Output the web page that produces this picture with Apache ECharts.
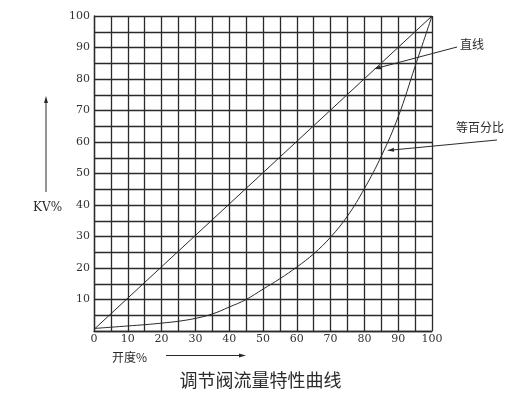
<!DOCTYPE html>
<html>
<head>
<meta charset="utf-8">
<script src="https://cdn.jsdelivr.net/npm/echarts@6/dist/echarts.min.js"></script>
<style>
html,body{margin:0;padding:0;background:#fff;}
#c{width:521px;height:395px;}
</style>
</head>
<body>
<div id="c"></div>
<script>
// Data
var openingPct = [0,5,10,15,20,25,30,35,40,45,50,55,60,65,70,75,80,85,90,95,100];
var equalPct   = [0.8,1.2,1.6,2.0,2.5,3.1,4.0,5.4,7.6,10.0,13.3,16.6,20.3,24.5,29.8,36.5,45.2,55.5,68,84,100];
var linearX    = [0,100];
var linearY    = [0.5,100];
var axisTicks  = [0,10,20,30,40,50,60,70,80,90,100];

var title = '调节阀流量特性曲线';
var xName = '开度%';
var yName = 'KV%';
var labelLinear = '直线';
var labelEqual = '等百分比';

function pairs(xs, ys){ return xs.map(function(x,i){ return [x, ys[i]]; }); }
function isTick(v){ return axisTicks.indexOf(v) >= 0; }

var INK = '#2a2a2a';
var serif = '"DejaVu Serif", "Liberation Serif", serif';
var cjk = '"Noto Sans CJK SC", sans-serif';

function arrow(x1,y1,x2,y2,len,half,w){
  var dx = x2-x1, dy = y2-y1, L = Math.sqrt(dx*dx+dy*dy);
  var ux = dx/L, uy = dy/L;
  var bx = x2-ux*len, by = y2-uy*len;
  return [
    {type:'line', shape:{x1:x1,y1:y1,x2:bx,y2:by}, style:{stroke:INK,lineWidth:w}, silent:true},
    {type:'polygon', shape:{points:[[x2,y2],[bx-uy*half,by+ux*half],[bx+uy*half,by-ux*half]]}, style:{fill:INK}, silent:true}
  ];
}

var chart = echarts.init(document.getElementById('c'), null, {renderer:'canvas'});

var graphics = [];
graphics = graphics.concat(arrow(46,192,46,96,7,2,1));
graphics = graphics.concat(arrow(166,355.5,246,355.5,7,2,1));
graphics = graphics.concat(arrow(457,47,374,69,7,2,1));
graphics = graphics.concat(arrow(497,140,387,150.5,7,2,1));
graphics.push({type:'text', left:33, top:202, style:{text:yName, font:'12px '+serif, fill:INK}, silent:true});
graphics.push({type:'text', left:112, top:351, style:{text:xName, font:'12px '+cjk, fill:INK}, silent:true});
graphics.push({type:'text', left:460, top:38, style:{text:labelLinear, font:'12px '+cjk, fill:INK}, silent:true});
graphics.push({type:'text', left:456, top:121, style:{text:labelEqual, font:'12px '+cjk, fill:INK}, silent:true});

var axisCommon = {
  type:'value', min:0, max:100, interval:5,
  axisLine:{show:true, lineStyle:{color:INK, width:1.3}},
  axisTick:{show:false},
  splitLine:{show:true, lineStyle:{color:INK, width:1.3}},
};

chart.setOption({
  backgroundColor:'#fff',
  animation:false,
  title:{text:title, left:'center', top:366, itemGap:0,
    textStyle:{fontFamily:cjk, fontSize:18, fontWeight:'normal', color:INK}},
  grid:{left:94, top:16, width:338, height:315, show:false},
  xAxis:Object.assign({}, axisCommon, {
    axisLabel:{margin:3, color:'#333', fontFamily:serif, fontSize:11,
      formatter:function(v){ return isTick(v) ? String(v) : ''; }}
  }),
  yAxis:Object.assign({}, axisCommon, {
    axisLabel:{margin:4, color:'#333', fontFamily:serif, fontSize:11,
      formatter:function(v){ return (isTick(v) && v !== 0) ? String(v) : ''; }}
  }),
  series:[
    {type:'line', data:pairs(linearX, linearY), symbol:'none', lineStyle:{color:INK, width:1}},
    {type:'line', data:pairs(openingPct, equalPct), symbol:'none', smooth:0.4, lineStyle:{color:INK, width:1}}
  ],
  graphic:graphics
});
</script>
</body>
</html>
